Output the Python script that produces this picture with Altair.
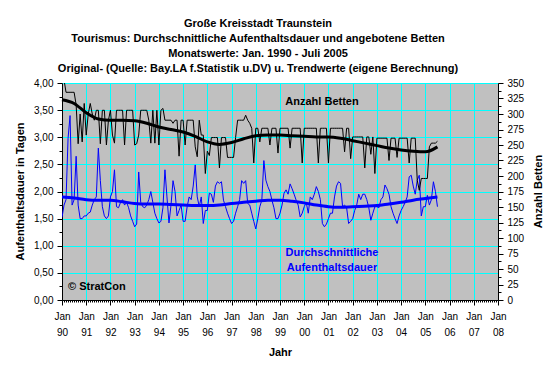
import altair as alt
import pandas as pd

FONT = "Liberation Sans"

# ---- Anzahl Betten (monthly, Jan 1990 - Jul 2005) ----
beds_1990 = [355, 355, 335, 335, 335, 335, 335, 315, 252, 300, 255, 317]
beds_1991 = [266, 300, 317, 300, 290, 306, 306, 252, 306, 306, 250, 290]
beds_1992 = [306, 266, 253, 306, 306, 306, 306, 250, 306, 306, 306, 306]
beds_1993 = [250, 252, 266, 306, 306, 306, 306, 290, 253, 306, 253, 306]
beds_1994 = [250, 306, 309, 290, 290, 290, 290, 285, 290, 290, 232, 290]
beds_1995 = [290, 250, 290, 290, 290, 290, 247, 231, 290, 266, 266, 204]
beds_1996 = [240, 233, 262, 262, 262, 262, 213, 262, 262, 262, 230, 230]
beds_1997 = [230, 230, 262, 290, 290, 290, 290, 298, 290, 285, 277, 221]
beds_1998 = [277, 277, 255, 277, 277, 277, 277, 250, 277, 277, 277, 237]
beds_1999 = [277, 277, 277, 277, 277, 245, 277, 277, 277, 277, 277, 221]
beds_2000 = [277, 277, 277, 277, 277, 277, 277, 221, 277, 277, 277, 277]
beds_2001 = [221, 277, 277, 277, 277, 277, 277, 277, 239, 277, 277, 228]
beds_2002 = [263, 263, 263, 263, 263, 263, 213, 263, 263, 235, 263, 204]
beds_2003 = [261, 261, 261, 261, 261, 261, 225, 261, 261, 261, 230, 261]
beds_2004 = [261, 261, 261, 261, 221, 261, 261, 261, 193, 177, 196, 196]
beds_2005 = [196, 196, 247, 253, 253, 253, 256]

# ---- Durchschnittliche Aufenthaltsdauer (days) ----
days_1990 = [1.52, 1.75, 1.85, 2.98, 3.40, 1.75, 1.85, 2.65, 1.75, 1.50, 1.50, 1.55]
days_1991 = [1.55, 1.60, 1.62, 1.75, 1.85, 1.90, 2.80, 2.20, 1.72, 1.55, 1.50, 1.55]
days_1992 = [1.90, 2.00, 2.40, 1.72, 1.70, 1.80, 1.85, 1.75, 1.80, 1.70, 1.55, 1.45]
days_1993 = [1.35, 1.40, 2.36, 1.80, 1.72, 1.70, 1.75, 1.85, 2.00, 1.80, 1.60, 1.50]
days_1994 = [1.42, 1.45, 1.70, 2.40, 1.90, 1.42, 1.75, 2.20, 2.00, 1.55, 1.65, 1.75]
days_1995 = [1.45, 1.45, 1.72, 1.90, 1.85, 2.10, 2.49, 1.90, 1.72, 1.90, 1.41, 1.65]
days_1996 = [1.65, 1.97, 1.95, 1.80, 2.10, 2.18, 2.15, 2.18, 1.84, 1.72, 1.60, 1.50]
days_1997 = [1.41, 1.45, 1.60, 1.72, 1.85, 2.20, 2.15, 2.20, 1.78, 1.75, 1.60, 1.45]
days_1998 = [1.31, 1.50, 1.72, 1.84, 2.57, 2.21, 2.09, 2.00, 1.84, 1.70, 1.50, 1.50]
days_1999 = [1.60, 1.75, 1.97, 2.03, 1.95, 2.14, 2.05, 1.95, 1.84, 1.75, 1.53, 1.60]
days_2000 = [1.72, 1.80, 1.60, 1.90, 1.85, 1.95, 2.09, 2.00, 1.85, 1.41, 1.35, 1.40]
days_2001 = [1.50, 1.60, 1.60, 1.90, 2.10, 2.18, 2.15, 1.72, 1.75, 1.70, 1.41, 1.45]
days_2002 = [1.50, 1.65, 1.75, 1.95, 1.85, 1.95, 1.95, 1.85, 1.70, 1.47, 1.60, 1.72]
days_2003 = [1.72, 1.70, 1.85, 1.90, 2.12, 2.05, 1.95, 1.72, 1.60, 1.50, 1.41, 1.55]
days_2004 = [1.65, 1.72, 1.80, 1.90, 2.27, 2.30, 2.10, 1.95, 2.21, 2.30, 1.55, 1.72]
days_2005 = [1.72, 1.93, 1.75, 1.85, 2.18, 2.00, 1.72]

# ---- Trend values (half-yearly, Jan/Jul 1990 - Jul 2005) ----
bed_trend = [323, 317, 302, 292, 290, 290, 289, 285, 279, 275, 271, 264,
             255, 251, 254, 260, 265, 266, 266, 265, 264, 263, 263, 261,
             257, 253, 249, 245, 242, 240, 239, 247]
day_trend = [1.90, 1.88, 1.85, 1.84, 1.84, 1.81, 1.78, 1.77, 1.77, 1.76, 1.75, 1.74,
             1.74, 1.75, 1.78, 1.80, 1.82, 1.84, 1.84, 1.82, 1.79, 1.75, 1.72, 1.71,
             1.72, 1.73, 1.74, 1.77, 1.80, 1.84, 1.87, 1.90]

title_lines = [
    "Große Kreisstadt Traunstein",
    "Tourismus: Durchschnittliche Aufenthaltsdauer und angebotene Betten",
    "Monatswerte: Jan. 1990 - Juli 2005",
    "Original- (Quelle: Bay.LA f.Statistik u.DV) u. Trendwerte (eigene Berechnung)",
]

beds = (beds_1990 + beds_1991 + beds_1992 + beds_1993 + beds_1994 + beds_1995 +
        beds_1996 + beds_1997 + beds_1998 + beds_1999 + beds_2000 + beds_2001 +
        beds_2002 + beds_2003 + beds_2004 + beds_2005)
days = (days_1990 + days_1991 + days_1992 + days_1993 + days_1994 + days_1995 +
        days_1996 + days_1997 + days_1998 + days_1999 + days_2000 + days_2001 +
        days_2002 + days_2003 + days_2004 + days_2005)

df = pd.DataFrame({"t": [1990 + i / 12 for i in range(len(beds))],
                   "beds": beds, "days": days})
dft = pd.DataFrame({"t": [1990 + 0.5 * k for k in range(len(bed_trend))],
                    "bt": bed_trend, "dt": day_trend})

# ---- axes ----
major_x = "abs(datum.value - round(datum.value)) < 0.001"
x_axis = alt.Axis(
    values=[1990 + i / 12 for i in range(18 * 12 + 1)],
    labelExpr=f"{major_x} ? ['Jan', format(round(datum.value) % 100, '02d')] : ''",
    labelLineHeight=16, labelOverlap=False, labelFlush=False, labelPadding=6,
    tickSize={"condition": {"test": major_x, "value": 5}, "value": 2},
    gridOpacity={"condition": {"test": major_x, "value": 1}, "value": 0},
    titleX=218, titleY=52, titleBaseline="middle",
)
X = alt.X("t:Q", scale=alt.Scale(domain=[1990, 2008], nice=False, zero=False),
          axis=x_axis, title="Jahr")

major_d = "datum.value * 2 == round(datum.value * 2)"
day_axis = alt.Axis(
    orient="left", values=[i * 0.25 for i in range(17)],
    labelExpr=f"{major_d} ? replace(format(datum.value, '.2f'), '.', ',') : ''",
    tickSize={"condition": {"test": major_d, "value": 5}, "value": 3},
    gridOpacity={"condition": {"test": major_d, "value": 1}, "value": 0},
    labelPadding=4, labelOverlap=False, labelFlush=False,
    titleX=-42, titleY=108, titleAngle=270, titleBaseline="middle",
)
day_scale = alt.Scale(domain=[0, 4], nice=False, zero=True)

major_b = "datum.value % 25 == 0"
bed_axis = alt.Axis(
    orient="right", values=[i * 12.5 for i in range(29)],
    labelExpr=f"{major_b} ? format(datum.value, 'd') : ''",
    tickSize={"condition": {"test": major_b, "value": 5}, "value": 3},
    grid=False, labelPadding=4, labelOverlap=False, labelFlush=False,
    titleX=40, titleY=108, titleAngle=270, titleBaseline="middle",
)
bed_scale = alt.Scale(domain=[0, 350], nice=False, zero=True)

# ---- marks ----
day_line = alt.Chart(df).mark_line(color="#0000FF", strokeWidth=1, clip=True).encode(
    x=X, y=alt.Y("days:Q", scale=day_scale, axis=day_axis, title="Aufenthaltsdauer in Tagen"))
day_tr = alt.Chart(dft).mark_line(color="#0000FF", strokeWidth=3, interpolate="monotone").encode(
    x=X, y=alt.Y("dt:Q", scale=day_scale, axis=day_axis, title="Aufenthaltsdauer in Tagen"))

bed_line = alt.Chart(df).mark_line(color="black", strokeWidth=1, clip=True).encode(
    x=X, y=alt.Y("beds:Q", scale=bed_scale, axis=bed_axis, title="Anzahl Betten"))
bed_tr = alt.Chart(dft).mark_line(color="black", strokeWidth=3, interpolate="monotone").encode(
    x=X, y=alt.Y("bt:Q", scale=bed_scale, axis=bed_axis, title="Anzahl Betten"))

days_layer = alt.layer(day_line, day_tr)
beds_layer = alt.layer(bed_line, bed_tr)

lbl_beds = alt.Chart(pd.DataFrame({"s": ["Anzahl Betten"]})).mark_text(
    font=FONT, fontSize=11, fontWeight="bold", color="black", align="center", baseline="middle"
).encode(x=alt.value(260), y=alt.value(19), text="s:N")
lbl_days = alt.Chart(pd.DataFrame({"s": ["Durchschnittliche"]})).mark_text(
    font=FONT, fontSize=11, fontWeight="bold", color="#0000FF", align="center", baseline="middle"
).encode(x=alt.value(270), y=alt.value(170), text="s:N")
lbl_days2 = alt.Chart(pd.DataFrame({"s": ["Aufenthaltsdauer"]})).mark_text(
    font=FONT, fontSize=11, fontWeight="bold", color="#0000FF", align="center", baseline="middle"
).encode(x=alt.value(270), y=alt.value(185), text="s:N")
lbl_copy = alt.Chart(pd.DataFrame({"s": ["© StratCon"]})).mark_text(
    font=FONT, fontSize=11, fontWeight="bold", color="black", align="left", baseline="middle"
).encode(x=alt.value(6), y=alt.value(204), text="s:N")

chart = alt.layer(
    days_layer, beds_layer, lbl_beds, lbl_days, lbl_days2, lbl_copy
).resolve_scale(y="independent").properties(
    width=436, height=217,
    autosize=alt.AutoSizeParams(type="none"),
    padding={"left": 54, "top": 75, "right": 54, "bottom": 66},
    background="white",
    title=alt.TitleParams(
        text=title_lines, font=FONT, fontSize=11, fontWeight="bold", color="black",
        lineHeight=15, anchor="middle", dx=-22, offset=4,
    ),
).configure_view(
    fill="#C0C0C0", stroke="#808080", strokeWidth=1
).configure_axis(
    domainColor="black", tickColor="black", labelColor="black", titleColor="black",
    labelFont=FONT, titleFont=FONT, labelFontSize=10, titleFontSize=11,
    titleFontWeight="bold", gridColor="#00FFFF", gridWidth=1,
)

chart.save("out.html", embed_options={"renderer": "svg", "actions": False})
